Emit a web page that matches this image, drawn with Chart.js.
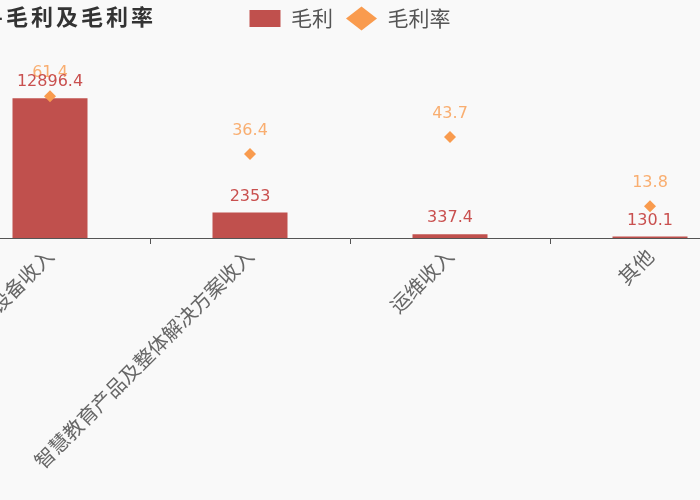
<!DOCTYPE html>
<html>
<head>
<meta charset="utf-8">
<script src="https://cdn.jsdelivr.net/npm/chart.js@4.4.1/dist/chart.umd.min.js"></script>
<style>
  html, body { margin: 0; padding: 0; background: #f9f9f9; overflow: hidden; }
  #wrap { position: absolute; left: -56px; top: 0; width: 812px; height: 500px; }
</style>
</head>
<body>
<div id="wrap"><canvas id="chart" width="812" height="500"></canvas></div>
<script>
const titleText = "主营构成-毛利及毛利率";
const categories = ["教学设备收入", "智慧教育产品及整体解决方案收入", "运维收入", "其他"];
const grossProfit = [12896.4, 2353, 337.4, 130.1];
const grossMargin = [61.4, 36.4, 43.7, 13.8];

const barColor = "#c0504d";
const rateColor = "#f99b4e";

// draws the value above each bar / diamond
const valueLabels = {
    id: "valueLabels",
    afterDatasetsDraw(chart) {
        const ctx = chart.ctx;
        ctx.save();
        ctx.font = "16px 'DejaVu Sans'";
        ctx.textAlign = "center";
        ctx.textBaseline = "bottom";
        chart.data.datasets.forEach((ds, i) => {
            const meta = chart.getDatasetMeta(i);
            const gap = ds.type === "line" ? 15 : 8;
            ctx.fillStyle = ds.type === "line" ? "rgba(249,155,78,0.8)" : "#c9504f";
            meta.data.forEach((el, j) => {
                ctx.fillText(String(ds.data[j]), el.x, el.y - gap);
            });
        });
        ctx.restore();
    }
};

const sideTitle = {
    id: "sideTitle",
    afterLayout(chart) {
        // legend sits a little higher, on the title row
        chart.legend.top -= 5;
        chart.legend.bottom -= 5;
    },
    afterDraw(chart) {
        const ctx = chart.ctx;
        ctx.save();
        ctx.font = "bold 22px 'Noto Sans CJK SC'";
        ctx.letterSpacing = "3px";
        ctx.fillStyle = "#333";
        ctx.textAlign = "right";
        ctx.textBaseline = "middle";
        ctx.fillText(titleText, 212, 17);
        ctx.restore();
    }
};

const chart = new Chart(document.getElementById("chart"), {
    data: {
        labels: categories,
        datasets: [
            {
                type: "line",
                label: "毛利率",
                data: grossMargin,
                yAxisID: "yRate",
                showLine: false,
                pointStyle: "rectRot",
                pointRadius: 6,
                pointHoverRadius: 6,
                backgroundColor: rateColor,
                borderColor: rateColor,
                borderWidth: 0
            },
            {
                type: "bar",
                label: "毛利",
                data: grossProfit,
                yAxisID: "yBar",
                backgroundColor: barColor,
                categoryPercentage: 0.75,
                barPercentage: 0.5
            }
        ]
    },
    options: {
        responsive: false,
        animation: false,
        devicePixelRatio: 1,
        layout: { padding: 0 },
        plugins: {
            tooltip: { enabled: false },
            legend: {
                position: "top",
                reverse: true,
                labels: {
                    usePointStyle: true,
                    pointStyleWidth: 31,
                    boxHeight: 17,
                    padding: 13,
                    color: "#555",
                    font: { family: "'Noto Sans CJK SC'", size: 21 },
                    generateLabels(c) {
                        const items = Chart.defaults.plugins.legend.labels.generateLabels(c);
                        items.forEach(it => {
                            it.pointStyle = it.text === "毛利" ? "rect" : "rectRot";
                            it.lineWidth = 0;
                        });
                        return items;
                    }
                }
            }
        },
        scales: {
            x: {
                offset: true,
                grid: {
                    offset: true,
                    drawOnChartArea: false,
                    drawTicks: true,
                    tickLength: 6,
                    color: "#555"
                },
                border: { color: "#555", width: 1 },
                ticks: {
                    minRotation: 45,
                    maxRotation: 45,
                    autoSkip: false,
                    color: "#666",
                    padding: 0,
                    font: { family: "'Noto Sans CJK SC'", size: 20 }
                },
                afterFit(scale) { scale.height = 262; }
            },
            yBar: {
                display: false,
                min: 0,
                max: 17900
            },
            yRate: {
                display: false,
                min: 0,
                max: 84
            }
        }
    },
    plugins: [valueLabels, sideTitle]
});
</script>
</body>
</html>
